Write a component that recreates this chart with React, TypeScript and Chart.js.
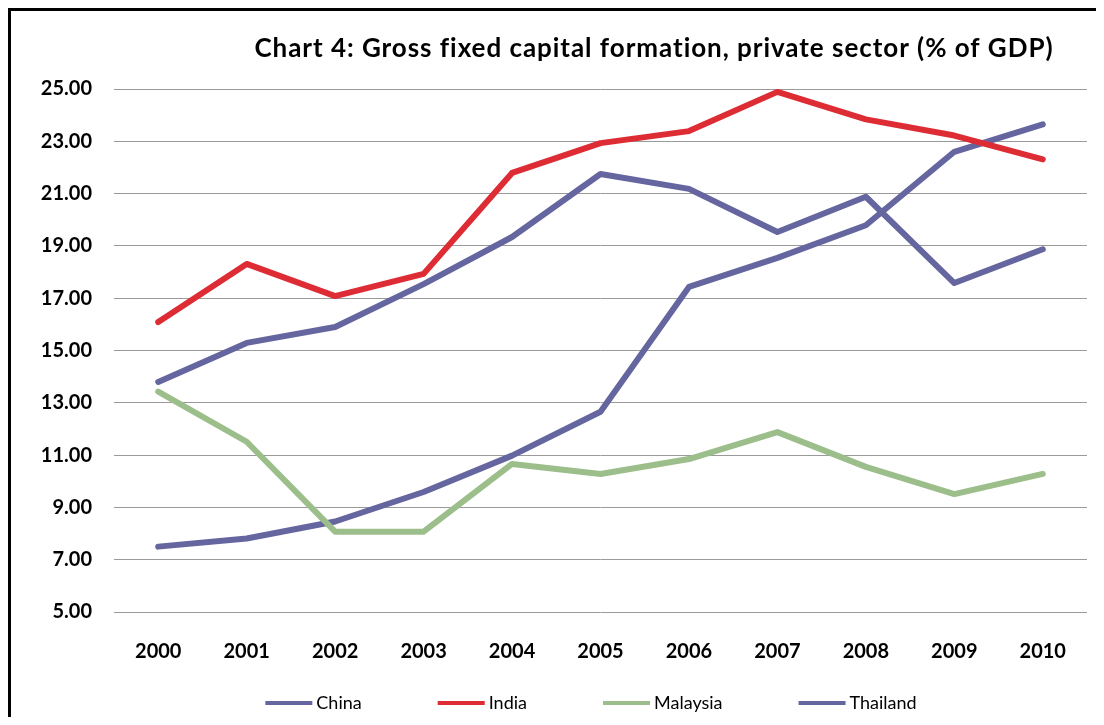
import React, { useEffect, useRef } from "react";
import { Chart, registerables } from "chart.js";

Chart.register(...registerables);

const TITLE = "Chart 4: Gross fixed capital formation, private sector (% of GDP)";
const years = ["2000", "2001", "2002", "2003", "2004", "2005", "2006", "2007", "2008", "2009", "2010"];
const china = [7.5, 7.81, 8.46, 9.59, 10.98, 12.66, 17.43, 18.54, 19.79, 22.6, 23.65];
const india = [16.09, 18.31, 17.08, 17.93, 21.79, 22.93, 23.39, 24.89, 23.84, 23.22, 22.31];
const malaysia = [13.43, 11.51, 8.07, 8.07, 10.66, 10.28, 10.85, 11.88, 10.55, 9.51, 10.28];
const thailand = [13.8, 15.29, 15.9, 17.54, 19.34, 21.75, 21.18, 19.53, 20.88, 17.58, 18.87];
const seriesNames = ["China", "India", "Malaysia", "Thailand"];
const seriesColors = ["#65659F", "#DE2C35", "#9CBE8B", "#65659F"];

const W = 1093;
const H = 706;

const titlePlugin = {
  id: "customTitle",
  afterDraw(chart: any) {
    const ctx = chart.ctx;
    ctx.save();
    ctx.font = "bold 26px Lato";
    ctx.fillStyle = "#000";
    ctx.textAlign = "left";
    ctx.textBaseline = "alphabetic";
    const target = 798;
    const w = ctx.measureText(TITLE).width;
    const ls = Math.max(0, (target - w) / (TITLE.length - 1));
    try {
      (ctx as any).letterSpacing = ls.toFixed(2) + "px";
    } catch (e) {}
    const w2 = ctx.measureText(TITLE).width;
    ctx.fillText(TITLE, 643 - w2 / 2, 46);
    ctx.restore();
  },
};

const legendPlugin = {
  id: "customLegend",
  afterDraw(chart: any) {
    const ctx = chart.ctx;
    ctx.save();
    ctx.font = "18px Lato";
    const lineW = 47;
    const gapText = 4;
    const gapItem = 76;
    const widths = seriesNames.map((n) => ctx.measureText(n).width);
    const total = widths.reduce((a, w) => a + lineW + gapText + w, 0) + gapItem * (seriesNames.length - 1);
    let x = 580 - total / 2;
    const y = 692;
    seriesNames.forEach((n, i) => {
      ctx.strokeStyle = seriesColors[i];
      ctx.lineWidth = 4;
      ctx.beginPath();
      ctx.moveTo(x, y);
      ctx.lineTo(x + lineW, y);
      ctx.stroke();
      ctx.fillStyle = "#000";
      ctx.textAlign = "left";
      ctx.textBaseline = "middle";
      ctx.fillText(n, x + lineW + gapText, y);
      x += lineW + gapText + widths[i] + gapItem;
    });
    ctx.restore();
  },
};

export default function App() {
  const ref = useRef<HTMLCanvasElement | null>(null);

  useEffect(() => {
    if (!ref.current) return;
    const datasets = [china, india, malaysia, thailand].map((d, i) => ({
      label: seriesNames[i],
      data: d,
      borderColor: seriesColors[i],
      backgroundColor: seriesColors[i],
      borderWidth: 6,
      pointRadius: 0,
      pointHoverRadius: 0,
      tension: 0,
      borderCapStyle: "round" as const,
      borderJoinStyle: "round" as const,
      order: 3 - i,
    }));
    const chart = new Chart(ref.current, {
      type: "line",
      data: { labels: years, datasets },
      options: {
        animation: false,
        responsive: false,
        devicePixelRatio: 1,
        layout: { padding: { left: 0, top: 78, right: 17, bottom: 0 } },
        plugins: {
          legend: { display: false },
          title: { display: false },
          tooltip: { enabled: false },
        },
        scales: {
          x: {
            offset: true,
            grid: { display: false, drawTicks: false },
            border: { display: false },
            ticks: {
              color: "#000",
              font: { family: "Lato", size: 20, weight: "bold" },
              padding: 28,
              maxRotation: 0,
            },
            afterFit(scale: any) {
              scale.height = 105;
            },
          },
          y: {
            min: 5,
            max: 25,
            ticks: {
              stepSize: 2,
              color: "#000",
              font: { family: "Lato", size: 20, weight: "bold" },
              padding: 22,
              callback: (v: any) => Number(v).toFixed(2),
            },
            grid: { color: "#9a9a9a", lineWidth: 1, drawTicks: false },
            border: { display: false },
            afterFit(scale: any) {
              scale.width = 103;
            },
          },
        },
      },
      plugins: [titlePlugin, legendPlugin],
    });
    return () => chart.destroy();
  }, []);

  return (
    <div
      style={{
        width: 1096,
        height: 709,
        boxSizing: "border-box",
        borderTop: "3px solid #000",
        borderLeft: "3px solid #000",
        background: "#fff",
      }}
    >
      <canvas ref={ref} width={W} height={H} style={{ display: "block", width: W, height: H }} />
    </div>
  );
}
